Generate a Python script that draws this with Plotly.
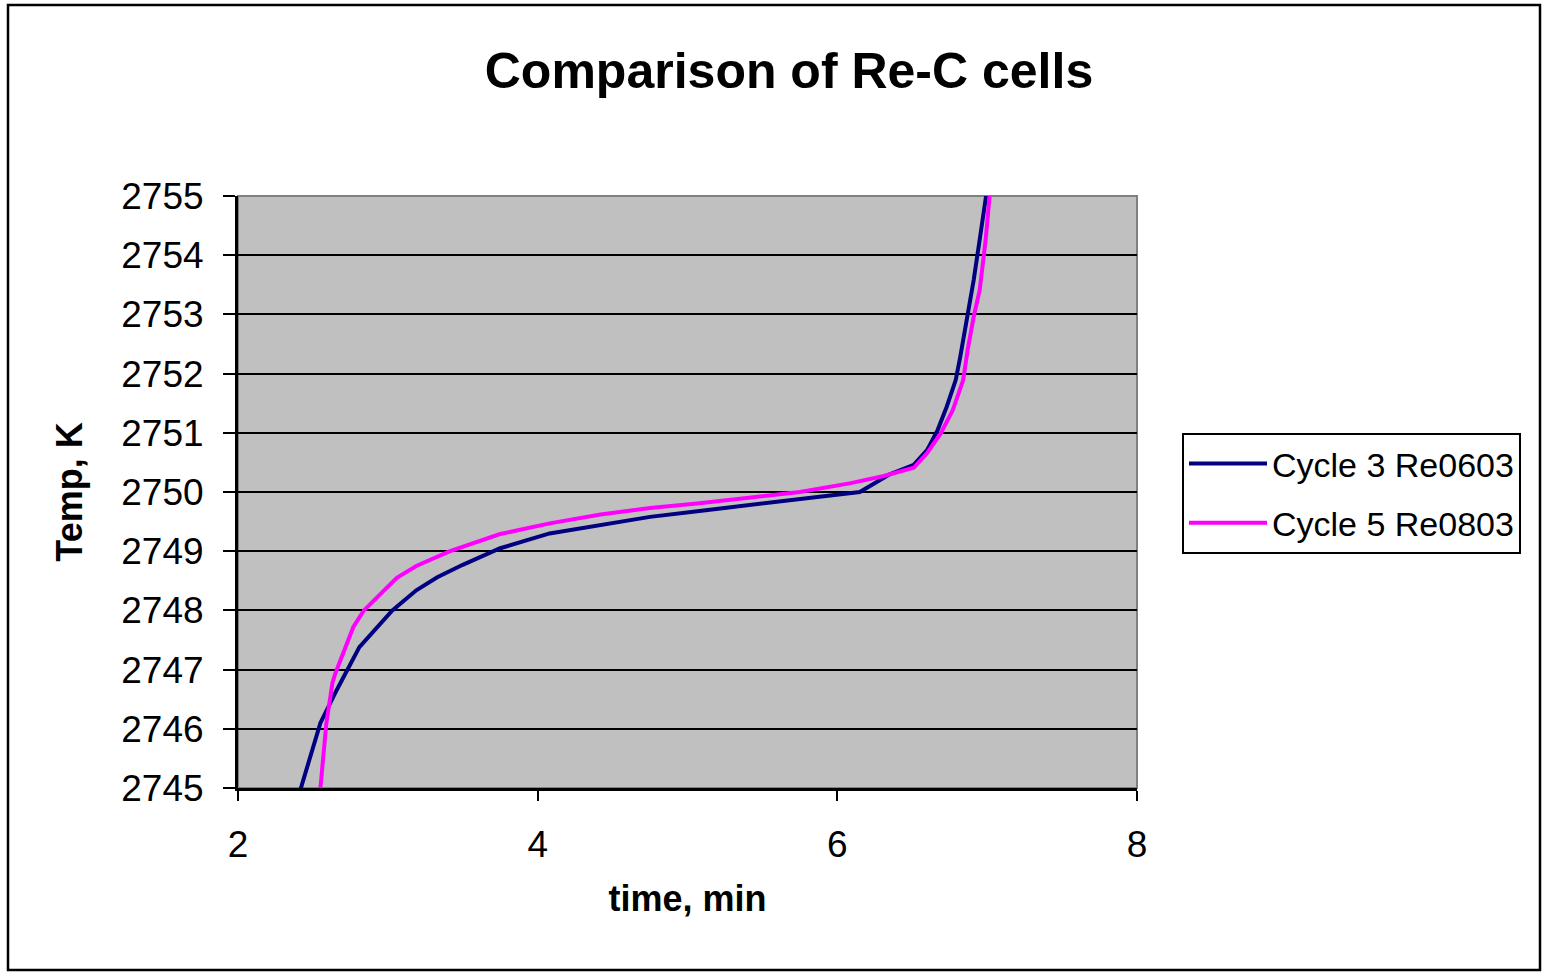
import plotly.graph_objects as go

# Data
cycle3_time = [2.40, 2.42, 2.55, 2.66, 2.81, 2.93, 3.03, 3.19, 3.33, 3.50, 3.75, 4.08, 4.42, 4.75, 5.08,
               5.75, 6.00, 6.15, 6.35, 6.51, 6.60, 6.67, 6.73, 6.79, 6.82, 6.87, 6.91, 6.95, 6.99, 7.01]
cycle3_temp = [2744.8, 2745.0, 2746.1, 2746.66, 2747.38, 2747.72, 2748.0, 2748.34, 2748.56, 2748.77,
               2749.05, 2749.3, 2749.45, 2749.58, 2749.68, 2749.88, 2749.95, 2750.0, 2750.3, 2750.46,
               2750.71, 2751.05, 2751.44, 2751.89, 2752.28, 2752.96, 2753.58, 2754.26, 2754.98, 2755.3]

cycle5_time = [2.54, 2.55, 2.59, 2.63, 2.65, 2.70, 2.77, 2.84, 2.93, 3.06, 3.19, 3.415, 3.75, 4.08, 4.42,
               4.75, 5.08, 5.75, 6.09, 6.31, 6.51, 6.60, 6.69, 6.77, 6.84, 6.87, 6.91, 6.95, 6.99, 7.02]
cycle5_temp = [2744.8, 2745.0, 2746.1, 2746.77, 2746.94, 2747.28, 2747.72, 2748.0, 2748.23, 2748.55,
               2748.75, 2749.0, 2749.29, 2749.47, 2749.62, 2749.73, 2749.81, 2750.0, 2750.15, 2750.27,
               2750.41, 2750.66, 2750.99, 2751.38, 2751.89, 2752.40, 2752.96, 2753.41, 2754.26, 2755.1]

series_names = ["Cycle 3 Re0603", "Cycle 5 Re0803"]
series_colors = ["#000080", "#FF00FF"]

x_ticks = [2, 4, 6, 8]
y_ticks = list(range(2745, 2756))

FONT = "Liberation Sans, Arial, sans-serif"

fig = go.Figure()
fig.add_trace(go.Scatter(x=cycle3_time, y=cycle3_temp, mode="lines", name=series_names[0],
                         legendgroup="g1",
                         line=dict(color=series_colors[0], width=4)))
fig.add_trace(go.Scatter(x=cycle5_time, y=cycle5_temp, mode="lines", name=series_names[1],
                         legendgroup="g2",
                         line=dict(color=series_colors[1], width=4)))

W, H = 1542, 974
L, R, T, B = 238, 1137, 196, 788
pw, ph = R - L, B - T

def px2paper_x(px):
    return (px - L) / pw

def px2paper_y(py):
    return (B - py) / ph

fig.update_layout(
    width=W, height=H,
    margin=dict(l=L, r=W - R, t=T, b=H - B, pad=0),
    paper_bgcolor="white",
    plot_bgcolor="#C0C0C0",
    font=dict(family=FONT, color="black", size=37),
    title=dict(text="<b>Comparison of Re-C cells</b>", font=dict(size=50, family=FONT),
               x=(789) / W, xanchor="center", y=1 - 70 / H, yanchor="middle",
               xref="container", yref="container"),
    xaxis=dict(range=[2, 8], tickvals=x_ticks, showgrid=False, zeroline=False,
               showline=True, linecolor="black", linewidth=3,
               ticks="outside", ticklen=10, tickwidth=2, tickcolor="black",
               ticklabelstandoff=12,
               tickfont=dict(size=37),
               title=dict(text="<b>time, min</b>", font=dict(size=36), standoff=22)),
    yaxis=dict(range=[2745, 2755], tickvals=y_ticks, showgrid=True, gridcolor="black", gridwidth=2,
               zeroline=False, showline=True, linecolor="black", linewidth=3,
               ticks="outside", ticklen=12, tickwidth=2, tickcolor="black",
               ticklabelstandoff=12,
               tickfont=dict(size=37),
               title=dict(text="<b>Temp, K</b>", font=dict(size=36), standoff=28)),
    legend=dict(x=px2paper_x(1182), y=px2paper_y(433), xanchor="left", yanchor="top",
                bgcolor="white", bordercolor="black", borderwidth=2,
                font=dict(size=34, family=FONT), tracegroupgap=12,
                itemwidth=78),
    showlegend=True,
)

# gray frame on top/right of plot area
fig.add_shape(type="rect", xref="paper", yref="paper", x0=0, y0=0, x1=1, y1=1,
              line=dict(color="#808080", width=2), layer="below")
# outer chart border
fig.add_shape(type="rect", xref="paper", yref="paper",
              x0=px2paper_x(8), x1=px2paper_x(1540), y0=px2paper_y(970), y1=px2paper_y(5),
              line=dict(color="black", width=2.5))

fig.write_html("out.html")
